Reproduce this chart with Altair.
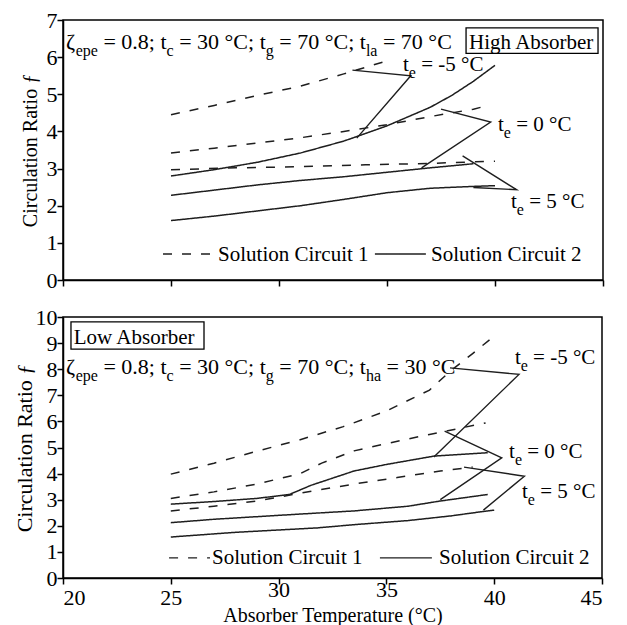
import altair as alt
import pandas as pd

FONT = "Liberation Serif"
INK = "#1e1e1e"

# ---------------- data: top panel (High Absorber) ----------------
# Solution Circuit 1 (dashed)
top_c1_m5_x = [25, 27, 29, 31, 33, 35]
top_c1_m5_y = [4.45, 4.70, 4.97, 5.22, 5.55, 5.90]
top_c1_0_x = [25, 27, 29, 31, 33, 35, 37, 39, 39.7]
top_c1_0_y = [3.42, 3.55, 3.69, 3.83, 4.00, 4.18, 4.40, 4.60, 4.70]
top_c1_5_x = [25, 28, 31, 34, 37, 40]
top_c1_5_y = [2.97, 3.02, 3.05, 3.10, 3.14, 3.20]
# Solution Circuit 2 (solid)
top_c2_m5_x = [25, 27, 29, 31, 33, 35, 37, 38, 39, 40]
top_c2_m5_y = [2.80, 2.97, 3.17, 3.42, 3.74, 4.15, 4.65, 4.97, 5.35, 5.78]
top_c2_0_x = [25, 27, 29, 31, 33, 35, 37, 39]
top_c2_0_y = [2.28, 2.42, 2.56, 2.68, 2.78, 2.90, 3.02, 3.13]
top_c2_5_x = [25, 27, 29, 31, 33, 35, 37, 39, 40]
top_c2_5_y = [1.60, 1.72, 1.86, 2.00, 2.17, 2.35, 2.47, 2.52, 2.54]
# leader lines (dashed curve -> label -> solid curve)
top_lead_m5_x = [33.4, 36.1, 33.6]
top_lead_m5_y = [5.65, 5.50, 3.82]
top_lead_0_x = [37.5, 39.8, 36.6]
top_lead_0_y = [4.60, 4.25, 3.02]
top_lead_5_x = [38.5, 41.0, 39.0]
top_lead_5_y = [3.34, 2.43, 2.49]
# te label anchors (x, baseline y)
top_lab_m5 = (35.74, 5.64)
top_lab_0 = (40.14, 4.01)
top_lab_5 = (40.74, 1.95)

# ---------------- data: bottom panel (Low Absorber) ----------------
bot_c1_m5_x = [25, 27, 29, 31, 33, 35, 37, 38, 39, 40]
bot_c1_m5_y = [3.98, 4.40, 4.86, 5.30, 5.80, 6.40, 7.20, 7.95, 8.60, 9.27]
bot_c1_0_x = [25, 27, 29, 31, 32, 33.5, 35, 37, 39.6]
bot_c1_0_y = [3.05, 3.30, 3.60, 4.00, 4.40, 4.87, 5.15, 5.50, 5.94]
bot_c1_5_x = [25, 27, 29, 31, 33.5, 35.5, 37.5, 39]
bot_c1_5_y = [2.57, 2.75, 2.95, 3.25, 3.60, 3.85, 4.10, 4.25]
bot_c2_m5_x = [25, 27, 29, 30.5, 31.5, 33.5, 35, 37.2, 39.7]
bot_c2_m5_y = [2.83, 2.93, 3.05, 3.20, 3.55, 4.10, 4.35, 4.67, 4.80]
bot_c2_0_x = [25, 27, 29, 31, 33.5, 36, 37.5, 39.7]
bot_c2_0_y = [2.12, 2.25, 2.35, 2.45, 2.57, 2.75, 2.95, 3.20]
bot_c2_5_x = [25, 28, 31.8, 33.6, 36, 38, 39.5, 40]
bot_c2_5_y = [1.57, 1.75, 1.92, 2.05, 2.20, 2.38, 2.55, 2.60]
bot_lead_m5_x = [37.95, 41.15, 37.2]
bot_lead_m5_y = [8.05, 7.80, 4.64]
bot_lead_0_x = [37.7, 40.35, 37.5]
bot_lead_0_y = [5.63, 4.60, 3.00]
bot_lead_5_x = [38.6, 41.4, 39.5]
bot_lead_5_y = [4.25, 3.90, 2.60]
bot_lab_m5 = (40.96, 8.20)
bot_lab_0 = (40.69, 4.60)
bot_lab_5 = (41.29, 3.07)

# tick values / labels
x_ticks = [20, 25, 30, 35, 40, 45]
top_y_ticks = [0, 1, 2, 3, 4, 5, 6, 7]
bot_y_ticks = [0, 1, 2, 3, 4, 5, 6, 7, 8, 9, 10]

# ---------------- text layout helpers ----------------
ADV = {" ": 250, "=": 564, ".": 250, ";": 278, "-": 333, "°": 400, "(": 333, ")": 333,
       "C": 667, "A": 722, "H": 722, "L": 611, "S": 556,
       "a": 444, "b": 500, "c": 444, "e": 444, "g": 500, "h": 500, "i": 278, "l": 278,
       "n": 500, "o": 500, "p": 500, "r": 333, "s": 389, "t": 278, "u": 500, "w": 722,
       "ζ": 440}


def text_width(s, size):
    return sum(ADV.get(ch, 500) for ch in s) / 1000.0 * size


def flow(pieces, x0, y0, pxu, main, sub):
    rows = []
    off = 0.0
    for txt, is_sub in pieces:
        size = sub if is_sub else main
        lead = len(txt) - len(txt.lstrip(" "))
        off += lead * 0.25 * size
        t = txt.strip(" ")
        rows.append({"x": x0 + off / pxu, "y": y0, "text": t, "size": size, "sub": is_sub})
        off += text_width(t, size)
    return rows


def curve_rows(pairs):
    rows = []
    for name, circ, xs, ys in pairs:
        for a, b in zip(xs, ys):
            rows.append({"x": a, "y": b, "series": name, "circuit": circ})
    return pd.DataFrame(rows)


def leader_rows(pairs):
    rows = []
    for name, xs, ys in pairs:
        for i, (a, b) in enumerate(zip(xs, ys)):
            rows.append({"x": a, "y": b, "lead": name, "i": i})
    return pd.DataFrame(rows)


def panel(width, height, ymax, yticks, curves, leaders, labels, params, box, legend,
          bottom, ytitle_size, ytitle_pad):
    pxu = width / 25.0
    xaxis = dict(values=x_ticks, labels=bottom, format="d", grid=False,
                 tickSize=6, tickWidth=1.5, tickColor="black",
                 domainColor="black", domainWidth=1.5,
                 labelFont=FONT, labelFontSize=22, labelColor="black",
                 labelPadding={"condition": {"test": "datum.value == 30 || datum.value == 35",
                                             "value": -5}, "value": 3})
    if bottom:
        xaxis.update(title="Absorber Temperature (°C)", titleFontSize=20, titlePadding=-3,
                     titleFont=FONT, titleFontWeight="normal", titleColor="black")
    else:
        xaxis.update(title=None)
    xenc = alt.X("x:Q", scale=alt.Scale(domain=[20, 45], nice=False, zero=False),
                 axis=alt.Axis(**xaxis))
    yenc = alt.Y("y:Q", scale=alt.Scale(domain=[0, ymax], nice=False),
                 axis=alt.Axis(values=yticks, format="d", title="Circulation Ratio ƒ",
                               grid=False, tickSize=6, tickWidth=1.5, tickColor="black",
                               domainColor="black", domainWidth=1.5,
                               labelFont=FONT, labelFontSize=22, labelColor="black",
                               labelPadding=0,
                               titleFontSize=ytitle_size, titleFont=FONT, titleColor="black",
                               titleFontWeight="normal", titlePadding=ytitle_pad))

    cdf = curve_rows(curves)
    lines = alt.Chart(cdf).mark_line(color=INK, strokeWidth=1.5).encode(
        x=xenc, y=yenc, detail="series:N",
        strokeDash=alt.StrokeDash("circuit:N", scale=alt.Scale(
            domain=["Solution Circuit 1", "Solution Circuit 2"], range=[[9, 10], [1, 0]]),
            legend=None))

    ldf = leader_rows(leaders)
    leads = alt.Chart(ldf).mark_line(color=INK, strokeWidth=1.4).encode(
        x=xenc, y=yenc, detail="lead:N", order="i:Q")

    # legend sample lines
    (dx0, dx1), (sx0, sx1), ly, t1x, t2x, ty = legend
    legdf = pd.DataFrame([
        {"x": dx0, "y": ly, "k": "Solution Circuit 1"}, {"x": dx1, "y": ly, "k": "Solution Circuit 1"},
        {"x": sx0, "y": ly, "k": "Solution Circuit 2"}, {"x": sx1, "y": ly, "k": "Solution Circuit 2"}])
    leglines = alt.Chart(legdf).mark_line(color=INK, strokeWidth=1.4).encode(
        x=xenc, y=yenc, detail="k:N",
        strokeDash=alt.StrokeDash("k:N", scale=alt.Scale(
            domain=["Solution Circuit 1", "Solution Circuit 2"], range=[[10, 10], [1, 0]]),
            legend=None))

    rows = []
    for (lx, lyb), lab in labels:
        rows += flow([("t", False), ("e", True), (" " + lab, False)], lx, lyb, pxu, 21, 16)
    px0, py0, ptxt = params
    rows += flow(ptxt, px0, py0, pxu, 22, 16)
    (bx0, bx1, by0, by1), btx, bty, btxt = box
    rows += flow([(btxt, False)], btx, bty, pxu, 21, 16)
    rows += flow([("Solution Circuit 1", False)], t1x, ty, pxu, 21, 16)
    rows += flow([("Solution Circuit 2", False)], t2x, ty, pxu, 21, 16)
    tdf = pd.DataFrame(rows)

    main_txt = alt.Chart(tdf[~tdf["sub"]]).mark_text(
        align="left", baseline="alphabetic", font=FONT, color="black").encode(
        x=xenc, y=yenc, text="text:N", size=alt.Size("size:Q", scale=None))
    sub_txt = alt.Chart(tdf[tdf["sub"]]).mark_text(
        align="left", baseline="alphabetic", font=FONT, color="black", dy=7).encode(
        x=xenc, y=yenc, text="text:N", size=alt.Size("size:Q", scale=None))

    boxdf = pd.DataFrame([{"x": bx0, "x2": bx1, "y": by0, "y2": by1}])
    rect = alt.Chart(boxdf).mark_rect(fillOpacity=0, stroke="black", strokeWidth=1.3).encode(
        x=xenc, x2="x2:Q", y=yenc, y2="y2:Q")

    return alt.layer(lines, leads, leglines, rect, main_txt, sub_txt).properties(
        width=width, height=height)


top_params = [("ζ", False), ("epe", True), (" = 0.8; t", False), ("c", True),
              (" = 30 °C; t", False), ("g", True), (" = 70 °C; t", False), ("la", True),
              (" = 70 °C", False)]
bot_params = [("ζ", False), ("epe", True), (" = 0.8; t", False), ("c", True),
              (" = 30 °C; t", False), ("g", True), (" = 70 °C; t", False), ("ha", True),
              (" = 30 °C", False)]

top = panel(
    540, 260, 7, top_y_ticks,
    [("m5c1", "Solution Circuit 1", top_c1_m5_x, top_c1_m5_y),
     ("0c1", "Solution Circuit 1", top_c1_0_x, top_c1_0_y),
     ("5c1", "Solution Circuit 1", top_c1_5_x, top_c1_5_y),
     ("m5c2", "Solution Circuit 2", top_c2_m5_x, top_c2_m5_y),
     ("0c2", "Solution Circuit 2", top_c2_0_x, top_c2_0_y),
     ("5c2", "Solution Circuit 2", top_c2_5_x, top_c2_5_y)],
    [("m5", top_lead_m5_x, top_lead_m5_y), ("0", top_lead_0_x, top_lead_0_y),
     ("5", top_lead_5_x, top_lead_5_y)],
    [(top_lab_m5, "= -5 °C"), (top_lab_0, "= 0 °C"), (top_lab_5, "= 5 °C")],
    (20.14, 6.23, top_params),
    ((38.66, 44.77, 6.79, 6.10), 38.8, 6.23, "High Absorber"),
    ((24.63, 27.08), (34.44, 36.8), 0.70, 27.18, 37.04, 0.51),
    False, 20, 6)

bot = panel(
    539, 261, 10, bot_y_ticks,
    [("m5c1", "Solution Circuit 1", bot_c1_m5_x, bot_c1_m5_y),
     ("0c1", "Solution Circuit 1", bot_c1_0_x, bot_c1_0_y),
     ("5c1", "Solution Circuit 1", bot_c1_5_x, bot_c1_5_y),
     ("m5c2", "Solution Circuit 2", bot_c2_m5_x, bot_c2_m5_y),
     ("0c2", "Solution Circuit 2", bot_c2_0_x, bot_c2_0_y),
     ("5c2", "Solution Circuit 2", bot_c2_5_x, bot_c2_5_y)],
    [("m5", bot_lead_m5_x, bot_lead_m5_y), ("0", bot_lead_0_x, bot_lead_0_y),
     ("5", bot_lead_5_x, bot_lead_5_y)],
    [(bot_lab_m5, "= -5 °C"), (bot_lab_0, "= 0 °C"), (bot_lab_5, "= 5 °C")],
    (20.14, 7.82, bot_params),
    ((20.37, 26.54, 9.81, 8.77), 20.5, 8.97, "Low Absorber"),
    ((24.92, 26.82), (34.70, 37.11), 0.77, 26.91, 37.44, 0.54),
    True, 22, -1)

chart = alt.concat(top, bot, columns=1, align="none", spacing=13).properties(
    padding={"top": 0, "left": 4, "right": 0, "bottom": 0}, background="white"
).configure_view(stroke="black", strokeWidth=1.5)

chart.save("out.html", embed_options={"renderer": "svg", "actions": False})
